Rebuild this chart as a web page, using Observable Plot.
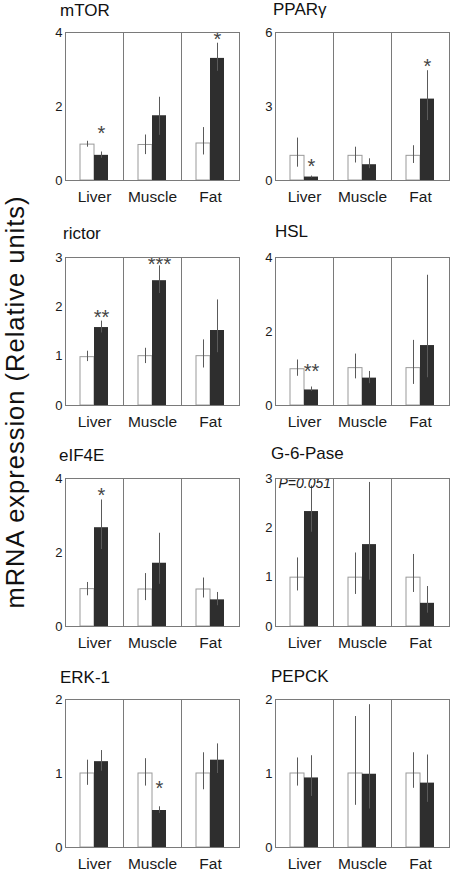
<!DOCTYPE html>
<html><head><meta charset="utf-8">
<script src="https://cdn.jsdelivr.net/npm/d3@7"></script>
<script src="https://cdn.jsdelivr.net/npm/@observablehq/plot@0.6"></script>
<style>
html,body{margin:0;padding:0;background:#fff;overflow:hidden;}
#root{position:relative;width:450px;height:873px;font-family:"Liberation Sans",Arial,sans-serif;}
.panel{position:absolute;}
#overlay{position:absolute;left:0;top:0;}
</style></head><body><div id="root"></div>
<script>
// ---- data ----
const tissues = ["Liver", "Muscle", "Fat"];
const groups = ["Control", "Treated"];
const genes = ["mTOR", "PPARγ", "rictor", "HSL", "eIF4E", "G-6-Pase", "ERK-1", "PEPCK"];
const yMax = [4, 6, 3, 4, 4, 3, 2, 2];
const yTicks = [[0,2,4],[0,3,6],[0,1,2,3],[0,2,4],[0,2,4],[0,1,2,3],[0,1,2],[0,1,2]];
// order in each row: Liver ctrl, Liver treated, Muscle ctrl, Muscle treated, Fat ctrl, Fat treated
const means = [
  [0.97, 0.68, 0.96, 1.75, 1.00, 3.30],
  [1.00, 0.14, 1.00, 0.64, 1.00, 3.30],
  [0.98, 1.58, 1.00, 2.53, 1.00, 1.52],
  [0.98, 0.42, 1.01, 0.74, 1.01, 1.62],
  [1.01, 2.67, 1.00, 1.71, 1.00, 0.72],
  [0.99, 2.33, 0.99, 1.66, 0.99, 0.47],
  [1.00, 1.16, 1.00, 0.50, 1.00, 1.18],
  [1.00, 0.94, 1.00, 0.99, 1.00, 0.87]
];
const errLow = [
  [0.90, 0.60, 0.70, 1.22, 0.69, 2.95],
  [0.54, 0.10, 0.71, 0.48, 0.69, 2.43],
  [0.89, 1.47, 0.85, 2.27, 0.76, 1.07],
  [0.79, 0.38, 0.72, 0.59, 0.57, 0.75],
  [0.83, 2.08, 0.70, 1.14, 0.77, 0.56],
  [0.72, 1.91, 0.65, 0.94, 0.69, 0.27],
  [0.84, 1.03, 0.83, 0.46, 0.78, 1.00],
  [0.83, 0.69, 0.57, 0.52, 0.80, 0.61]
];
const errHigh = [
  [1.06, 0.77, 1.23, 2.25, 1.43, 3.71],
  [1.72, 0.18, 1.35, 0.88, 1.41, 4.45],
  [1.10, 1.71, 1.16, 2.83, 1.33, 2.14],
  [1.23, 0.50, 1.39, 0.92, 1.76, 3.52],
  [1.19, 3.42, 1.43, 2.52, 1.31, 0.92],
  [1.39, 2.85, 1.49, 2.92, 1.46, 0.81],
  [1.18, 1.31, 1.20, 0.55, 1.28, 1.40],
  [1.21, 1.24, 1.77, 1.93, 1.28, 1.25]
];
// significance marks: gene, tissue, y position, text
const starGene = ["mTOR", "mTOR", "PPARγ", "PPARγ", "rictor", "rictor", "HSL", "eIF4E", "ERK-1"];
const starTissue = ["Liver", "Fat", "Liver", "Fat", "Liver", "Muscle", "Liver", "Liver", "Muscle"];
const starY = [1.41, 3.93, 0.75, 4.83, 1.88, 2.95, 1.05, 3.68, 0.86];
const starText = ["*", "*", "*", "*", "**", "***", "**", "*", "*"];
const noteGene = ["G-6-Pase"];
const noteTissue = ["Liver"];
const noteText = ["P=0.051"];
const yLabel = "mRNA expression (Relative units)";

// ---- layout ----
const FONT = '"Liberation Sans", Arial, sans-serif';
const colFrameLeft = [64, 274];
const rowFrameTop = [32, 257, 478, 699];
const frameW = 175, frameH = 148;
const mL = 30, mR = 1, mT = 4, mB = 32;
const labelPad = [10, 10, 10, 10.5];
const titlePos = [[60,15.5],[273,15],[63,239],[275,237],[59,460.5],[271,459],[60,682.5],[271,682]];

const root = document.getElementById("root");

genes.forEach((gene, p) => {
  const col = p % 2, row = Math.floor(p / 2);
  const data = [];
  tissues.forEach((t, ti) => groups.forEach((g, gi) => {
    const k = ti * 2 + gi;
    data.push({tissue: t, group: g, v: means[p][k], lo: errLow[p][k], hi: errHigh[p][k]});
  }));
  const stars = [];
  starGene.forEach((sg, i) => { if (sg === gene) stars.push({tissue: starTissue[i], group: "Treated", y: starY[i], text: starText[i]}); });
  const notes = [];
  noteGene.forEach((ng, i) => { if (ng === gene) notes.push({tissue: noteTissue[i], text: noteText[i]}); });

  const chart = Plot.plot({
    width: mL + frameW + mR,
    height: mT + frameH + mB,
    marginLeft: mL, marginRight: mR, marginTop: mT, marginBottom: mB,
    style: {fontFamily: FONT, background: "transparent", color: "#1a1a1a", overflow: "visible"},
    fx: {domain: tissues, padding: 0},
    x: {domain: groups, paddingInner: 0, paddingOuter: 1, axis: null},
    y: {domain: [0, yMax[p]]},
    marks: [
      Plot.barY(data.filter(d => d.group === "Control"), {fx: "tissue", x: "group", y: "v", fill: "#fff", stroke: "#9a9a9a", strokeWidth: 1, inset: 0}),
      Plot.barY(data.filter(d => d.group === "Treated"), {fx: "tissue", x: "group", y: "v", fill: "#2e2e2e", inset: 0}),
      Plot.ruleX(data, {fx: "tissue", x: "group", y1: "lo", y2: "hi", stroke: "#5a5a5a", strokeWidth: 1}),
      Plot.text(stars, {fx: "tissue", x: "group", y: "y", text: "text", fontSize: 20, dy: 5, fill: "#444", fontFamily: FONT, letterSpacing: 1}),
      Plot.text(notes, {fx: "tissue", text: "text", frameAnchor: "top-left", textAnchor: "start", lineAnchor: "top", dx: 3, dy: 0, fontSize: 14, fontStyle: "italic", fill: "#222"}),
      Plot.frame({stroke: "#7a7a7a", strokeWidth: 1}),
      Plot.axisY({ticks: yTicks[p], tickSize: 0, tickPadding: 3, fontSize: 13, label: null, tickFormat: d => String(d)}),
      Plot.axisFx({anchor: "bottom", tickSize: 0, tickPadding: labelPad[row], fontSize: 15.5, label: null})
    ]
  });
  chart.classList.add("panel");
  chart.style.left = (colFrameLeft[col] - mL) + "px";
  chart.style.top = (rowFrameTop[row] - mT) + "px";
  root.appendChild(chart);
});

// titles and shared y label
const ns = "http://www.w3.org/2000/svg";
const svg = document.createElementNS(ns, "svg");
svg.setAttribute("id", "overlay");
svg.setAttribute("width", 450);
svg.setAttribute("height", 873);
svg.style.pointerEvents = "none";
genes.forEach((gene, p) => {
  const t = document.createElementNS(ns, "text");
  t.setAttribute("x", titlePos[p][0]);
  t.setAttribute("y", titlePos[p][1]);
  t.setAttribute("font-family", FONT);
  t.setAttribute("font-size", "17");
  t.setAttribute("fill", "#111");
  t.textContent = gene;
  svg.appendChild(t);
});
const yl = document.createElementNS(ns, "text");
yl.setAttribute("transform", "translate(23.5,402) rotate(-90)");
yl.setAttribute("text-anchor", "middle");
yl.setAttribute("font-family", FONT);
yl.setAttribute("font-size", "25.5");
yl.setAttribute("letter-spacing", "1");
yl.setAttribute("fill", "#111");
yl.textContent = yLabel;
svg.appendChild(yl);
root.appendChild(svg);
</script>
</body></html>
